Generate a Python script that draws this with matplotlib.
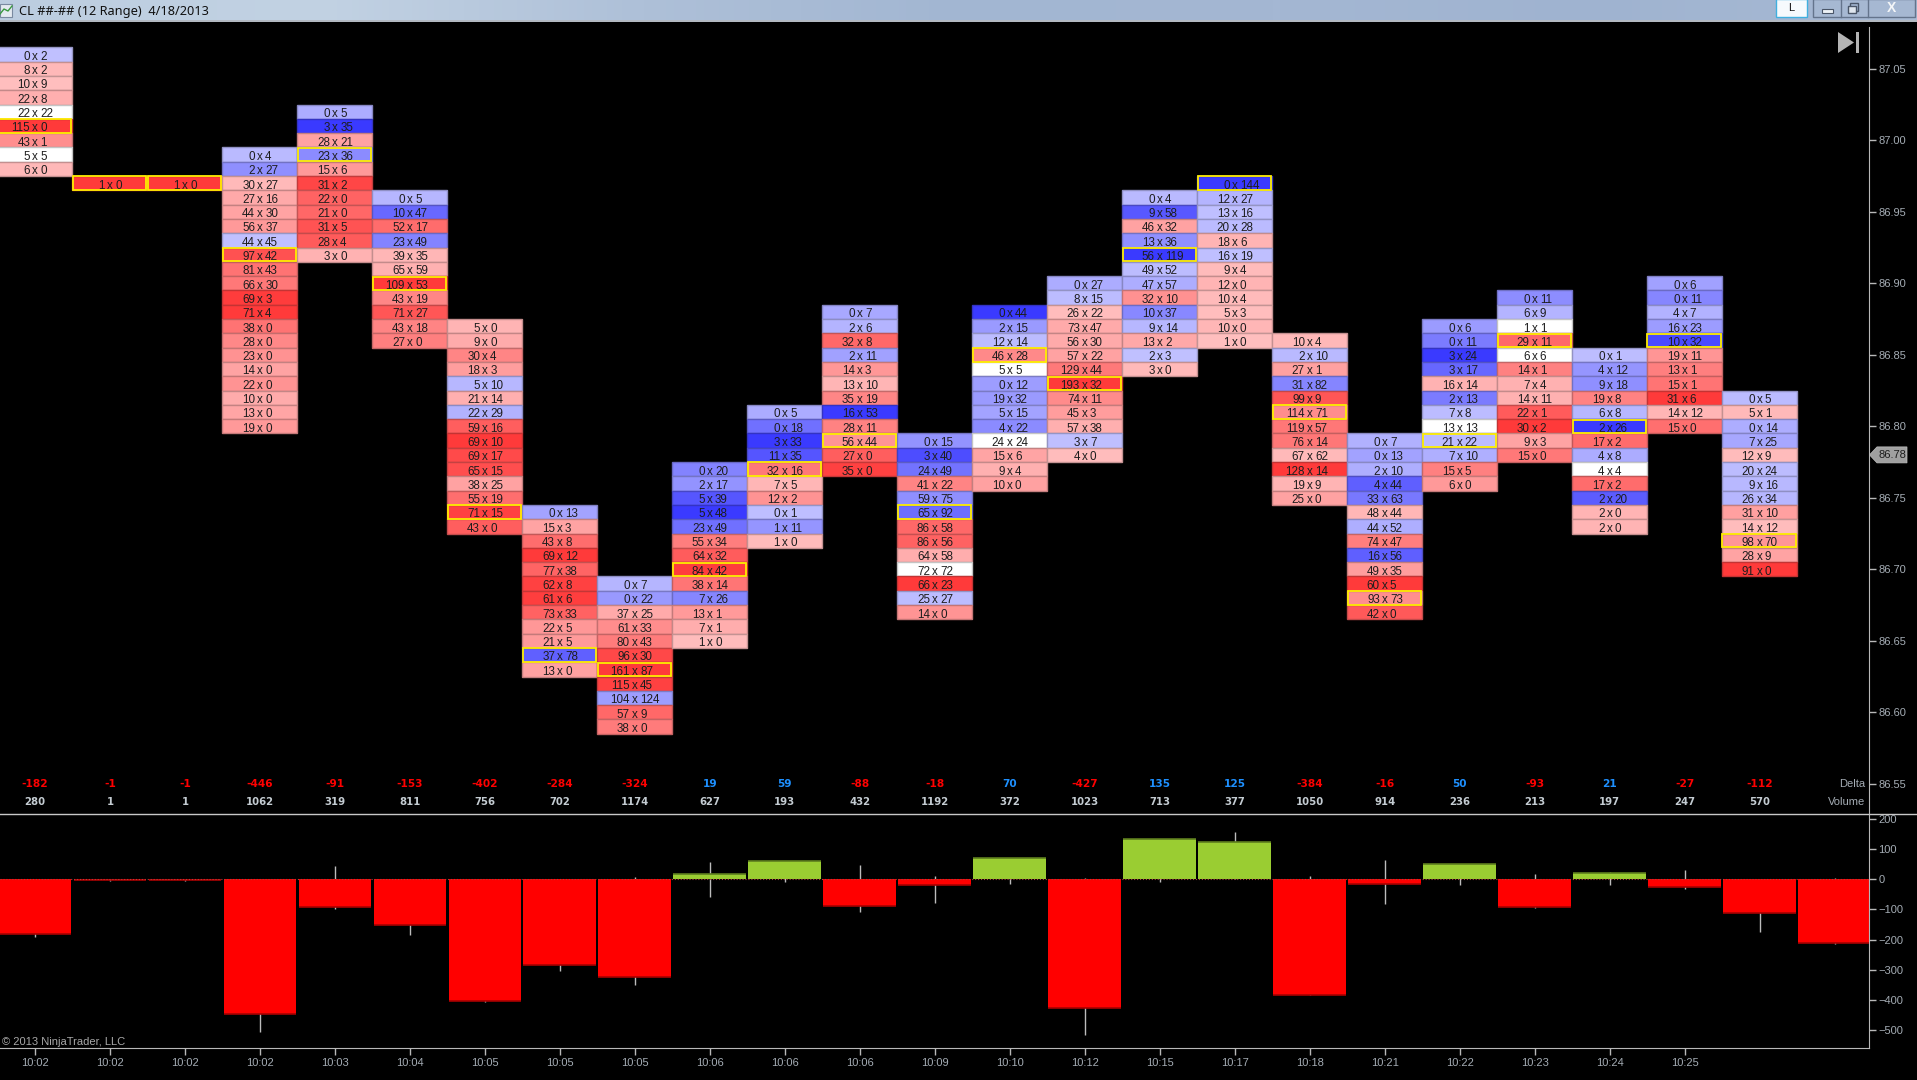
import numpy as np
import matplotlib
matplotlib.use('Agg')
import matplotlib.pyplot as plt
from matplotlib.colors import LinearSegmentedColormap
from matplotlib.patches import Rectangle, Polygon

# footprint data, one list per column, rows run from the top price downwards
top_prices = [87.06, 86.97, 86.97, 86.99, 87.02, 86.96, 86.87, 86.74, 86.69, 86.77, 86.81, 86.88,
              86.79, 86.88, 86.90, 86.96, 86.97, 86.86, 86.79, 86.87, 86.89, 86.85, 86.90, 86.82]

bids = [
    [0, 8, 10, 22, 22, 115, 43, 5, 6],
    [1],
    [1],
    [0, 2, 30, 27, 44, 56, 44, 97, 81, 66, 69, 71, 38, 28, 23, 14, 22, 10, 13, 19],
    [0, 3, 28, 23, 15, 31, 22, 21, 31, 28, 3],
    [0, 10, 52, 23, 39, 65, 109, 43, 71, 43, 27],
    [5, 9, 30, 18, 5, 21, 22, 59, 69, 69, 65, 38, 55, 71, 43],
    [0, 15, 43, 69, 77, 62, 61, 73, 22, 21, 37, 13],
    [0, 0, 37, 61, 80, 96, 161, 115, 104, 57, 38],
    [0, 2, 5, 5, 23, 55, 64, 84, 38, 7, 13, 7, 1],
    [0, 0, 3, 11, 32, 7, 12, 0, 1, 1],
    [0, 2, 32, 2, 14, 13, 35, 16, 28, 56, 27, 35],
    [0, 3, 24, 41, 59, 65, 86, 86, 64, 72, 66, 25, 14],
    [0, 2, 12, 46, 5, 0, 19, 5, 4, 24, 15, 9, 10],
    [0, 8, 26, 73, 56, 57, 129, 193, 74, 45, 57, 3, 4],
    [0, 9, 46, 13, 56, 49, 47, 32, 10, 9, 13, 2, 3],
    [0, 12, 13, 20, 18, 16, 9, 12, 10, 5, 10, 1],
    [10, 2, 27, 31, 99, 114, 119, 76, 67, 128, 19, 25],
    [0, 0, 2, 4, 33, 48, 44, 74, 16, 49, 60, 93, 42],
    [0, 0, 3, 3, 16, 2, 7, 13, 21, 7, 15, 6],
    [0, 6, 1, 29, 6, 14, 7, 14, 22, 30, 9, 15],
    [0, 4, 9, 19, 6, 2, 17, 4, 4, 17, 2, 2, 2],
    [0, 0, 4, 16, 10, 19, 13, 15, 31, 14, 15],
    [0, 5, 0, 7, 12, 20, 9, 26, 31, 14, 98, 28, 91],
]
asks = [
    [2, 2, 9, 8, 22, 0, 1, 5, 0],
    [0],
    [0],
    [4, 27, 27, 16, 30, 37, 45, 42, 43, 30, 3, 4, 0, 0, 0, 0, 0, 0, 0, 0],
    [5, 35, 21, 36, 6, 2, 0, 0, 5, 4, 0],
    [5, 47, 17, 49, 35, 59, 53, 19, 27, 18, 0],
    [0, 0, 4, 3, 10, 14, 29, 16, 10, 17, 15, 25, 19, 15, 0],
    [13, 3, 8, 12, 38, 8, 6, 33, 5, 5, 78, 0],
    [7, 22, 25, 33, 43, 30, 87, 45, 124, 9, 0],
    [20, 17, 39, 48, 49, 34, 32, 42, 14, 26, 1, 1, 0],
    [5, 18, 33, 35, 16, 5, 2, 1, 11, 0],
    [7, 6, 8, 11, 3, 10, 19, 53, 11, 44, 0, 0],
    [15, 40, 49, 22, 75, 92, 58, 56, 58, 72, 23, 27, 0],
    [44, 15, 14, 28, 5, 12, 32, 15, 22, 24, 6, 4, 0],
    [27, 15, 22, 47, 30, 22, 44, 32, 11, 3, 38, 7, 0],
    [4, 58, 32, 36, 119, 52, 57, 10, 37, 14, 2, 3, 0],
    [144, 27, 16, 28, 6, 19, 4, 0, 4, 3, 0, 0],
    [4, 10, 1, 82, 9, 71, 57, 14, 62, 14, 9, 0],
    [7, 13, 10, 44, 63, 44, 52, 47, 56, 35, 5, 73, 0],
    [6, 11, 24, 17, 14, 13, 8, 13, 22, 10, 5, 0],
    [11, 9, 1, 11, 6, 1, 4, 11, 1, 2, 3, 0],
    [1, 12, 18, 8, 8, 26, 2, 8, 4, 2, 20, 0, 0],
    [6, 11, 7, 23, 32, 11, 1, 1, 6, 12, 0],
    [5, 1, 14, 25, 9, 24, 16, 34, 10, 12, 70, 9, 0],
]
# row of the highest volume in each column (yellow box)
poc_rows = [5, 0, 0, 7, 3, 6, 13, 10, 6, 7, 4, 9, 5, 3, 7, 4, 0, 5, 11, 8, 3, 5, 4, 10]

delta_labels = [-182, -1, -1, -446, -91, -153, -402, -284, -324, 19, 59, -88, -18, 70, -427, 135,
                125, -384, -16, 50, -93, 21, -27, -112]
volume_labels = [280, 1, 1, 1062, 319, 811, 756, 702, 1174, 627, 193, 432, 1192, 372, 1023, 713,
                 377, 1050, 914, 236, 213, 197, 247, 570]

# bottom panel has one more bar than the footprint
delta_bars = delta_labels + [-210]
delta_high = [0, 0, 0, 0, 43, 0, 0, 0, 7, 56, 58, 46, 10, 70, 4, 135, 156, 10, 63, 50, 17, 23, 30, 0, 4]
delta_low = [-190, -5, -5, -506, -97, -184, -407, -303, -350, -58, -8, -107, -77, -14, -515, -10,
             0, -384, -83, -20, -96, -20, -31, -173, -213]

time_labels = ['10:02', '10:02', '10:02', '10:02', '10:03', '10:04', '10:05', '10:05', '10:05',
               '10:06', '10:06', '10:06', '10:09', '10:10', '10:12', '10:15', '10:17', '10:18',
               '10:21', '10:22', '10:23', '10:24', '10:25']
price_ticks = [87.05, 87.00, 86.95, 86.90, 86.85, 86.80, 86.75, 86.70, 86.65, 86.60, 86.55]
delta_ticks = [200, 100, 0, -100, -200, -300, -400, -500]
last_price = 86.78

W, H = 1917, 1080
AXIS_X = 1868.5
SPLIT_Y = 814.3
BOTTOM_Y = 1048.3
GREY = '#a4acb4'
NARROW = ['Liberation Sans Narrow', 'Liberation Sans']
SANS = ['Liberation Sans', 'DejaVu Sans']
BOLD = ['DejaVu Sans']

plt.rcParams['font.family'] = SANS

red_scale = LinearSegmentedColormap.from_list('reds', ['#ffbfbf', '#ff3a3a'])
blue_scale = LinearSegmentedColormap.from_list('blues', ['#c2c2ff', '#3a3aff'])


def cell_color(bid, ask, biggest):
    #colour only depends on the imbalance, scaled by the biggest one in the column
    diff = bid - ask
    if diff == 0:
        return (1, 1, 1, 1)
    ratio = abs(diff) / biggest
    return red_scale(ratio) if diff > 0 else blue_scale(ratio)


def pixel_axes(fig, top, bottom, right=AXIS_X):
    return fig.add_axes([0, 1 - bottom / H, right / W, (bottom - top) / H])


fig = plt.figure(figsize=(W / 100, H / 100), dpi=100, facecolor='black')

ax_price = pixel_axes(fig, 20, SPLIT_Y)
ax_delta = pixel_axes(fig, SPLIT_Y, BOTTOM_Y)

x_limits = (-35 / 74.98, (AXIS_X - 35) / 74.98)
for ax in (ax_price, ax_delta):
    ax.set_facecolor('black')
    ax.set_xlim(*x_limits)
    for side in ('top', 'left', 'bottom'):
        ax.spines[side].set_visible(False)
    ax.spines['right'].set_color('#b8b8b8')
    ax.yaxis.tick_right()
    ax.tick_params(axis='y', length=5, width=1, color='#b8b8b8', labelcolor=GREY, labelsize=8, pad=2)

# footprint panel
ax_price.set_ylim(87.06 - (SPLIT_Y - 54.5) / 1430, 87.06 + 34.5 / 1430)
ax_price.spines['right'].set_bounds(ax_price.get_ylim()[0], 87.06 + 27.5 / 1430)
ax_price.set_xticks([])
ax_price.set_yticks(price_ticks)
ax_price.set_yticklabels(['%.2f' % p for p in price_ticks])

for col, top in enumerate(top_prices):
    biggest = max(abs(b - a) for b, a in zip(bids[col], asks[col]))
    for row, (bid, ask) in enumerate(zip(bids[col], asks[col])):
        price = top - row * 0.01
        face = cell_color(bid, ask, biggest)
        edge = tuple(c * 0.74 + 0.03 for c in face[:3])
        ax_price.bar(col, 0.01, bottom=price - 0.005, width=1.0, color=face, edgecolor=edge,
                     linewidth=1, zorder=2)
        text_y = price - 0.0006
        ax_price.text(col - 0.065, text_y, str(bid), ha='right', va='center_baseline', fontsize=8.4,
                      color='#1e1e1e', family=NARROW, zorder=4)
        ax_price.text(col, text_y, 'x', ha='center', va='center_baseline', fontsize=8.4,
                      color='#1e1e1e', family=NARROW, zorder=4)
        ax_price.text(col + 0.07, text_y, str(ask), ha='left', va='center_baseline', fontsize=8.4,
                      color='#1e1e1e', family=NARROW, zorder=4)
    poc_price = top - poc_rows[col] * 0.01
    ax_price.bar(col - 0.007, 0.0094, bottom=poc_price - 0.0047, width=0.975, color='none',
                 edgecolor='#ffee00', linewidth=1.3, zorder=3)

# delta / volume rows under the footprint
label_trans = ax_price.get_xaxis_transform()
for col in range(len(delta_labels)):
    color = '#ff0000' if delta_labels[col] < 0 else '#1e90ff'
    ax_price.text(col, 0.0385, str(delta_labels[col]), transform=label_trans, ha='center', va='center',
                  fontsize=7.6, fontweight='bold', color=color, family=BOLD)
    ax_price.text(col, 0.0157, str(volume_labels[col]), transform=label_trans, ha='center', va='center',
                  fontsize=7.3, fontweight='bold', color='#c4ccd2', family=BOLD)
ax_price.text(0.9982, 0.0385, 'Delta', transform=ax_price.transAxes, ha='right', va='center',
              fontsize=8, color=GREY)
ax_price.text(0.9982, 0.0157, 'Volume', transform=ax_price.transAxes, ha='right', va='center',
              fontsize=8, color=GREY)

# delta bars panel
ax_delta.set_ylim((879.3 - BOTTOM_Y) / 0.3019, (879.3 - SPLIT_Y) / 0.3019)
ax_delta.spines['bottom'].set_visible(True)
ax_delta.spines['bottom'].set_color('#b8b8b8')
ax_delta.set_yticks(delta_ticks)
ax_delta.set_xticks(range(len(time_labels)))
ax_delta.set_xticklabels(time_labels)
ax_delta.tick_params(axis='x', length=5, width=1, color='#b8b8b8', labelcolor=GREY, labelsize=8, pad=2)

xs = np.arange(len(delta_bars))
values = np.array(delta_bars)
ax_delta.vlines(xs, delta_low, delta_high, color='#bcbcbc', linewidth=1, zorder=1)
bar_colors = ['#ff0000' if v < 0 else '#9acd32' for v in values]
end_colors = ['#a80000' if v < 0 else '#5d7d1e' for v in values]
ax_delta.bar(xs, values, width=0.97, color=bar_colors, zorder=2)
ax_delta.hlines(values, xs - 0.485, xs + 0.485, color=end_colors, linewidth=1.2, zorder=3)
ax_delta.axhline(0, color='#b04040', linewidth=0.8, linestyle=':', zorder=4)
ax_delta.text(0.001, 0.025, '\u00a9 2013 NinjaTrader, LLC', transform=ax_delta.transAxes, ha='left',
              va='center', fontsize=8, color='#a8a8a8')

# window furniture, everything here is in screen pixels
ax_top = fig.add_axes([0, 0, 1, 1], facecolor='none')
ax_top.set_xlim(0, W)
ax_top.set_ylim(H, 0)
ax_top.axis('off')

title_colors = LinearSegmentedColormap.from_list(
    'title', ['#bccde0', '#c2d2e3', '#aec0d8', '#a2b6d2', '#a4b7d3', '#9fb3d0', '#a8bad4'])
ax_top.imshow(np.linspace(0, 1, 256)[None, :], cmap=title_colors, aspect='auto', extent=(0, W, 20, 0))
ax_top.set_xlim(0, W)
ax_top.set_ylim(H, 0)
ax_top.plot([0, W], [20.5, 20.5], color='#d8dfe8', linewidth=1.2)
ax_top.plot([0, W], [SPLIT_Y, SPLIT_Y], color='#c8c8c8', linewidth=1)

ax_top.add_patch(Rectangle((0, 4), 12, 13, facecolor='#e4eaf0', edgecolor='#7a8aa0', linewidth=0.8))
ax_top.plot([0, 4, 8, 12], [14, 9, 11, 6], color='#3a9a40', linewidth=1)
ax_top.text(19, 11, 'CL ##-## (12 Range)  4/18/2013', ha='left', va='center', fontsize=9.2,
            family=['Noto Sans', 'DejaVu Sans'], color='#101010')

ax_top.add_patch(Rectangle((1776, -1), 31, 18, facecolor='#f6fafd', edgecolor='#40b0e0', linewidth=1))
ax_top.text(1791.5, 8, 'L', ha='center', va='center', fontsize=8, color='#101010')
ax_top.add_patch(Rectangle((1813, -1), 102, 18, facecolor='#a6b8d2', edgecolor='#64748c', linewidth=1))
for sep in (1840.7, 1867.7):
    ax_top.plot([sep, sep], [0, 17], color='#64748c', linewidth=1)
ax_top.add_patch(Rectangle((1821.5, 8.5), 11, 4, facecolor='#eef2f6', edgecolor='#4a5668', linewidth=0.8))
ax_top.add_patch(Rectangle((1850, 3), 8, 8, facecolor='none', edgecolor='#4a5668', linewidth=1))
ax_top.add_patch(Rectangle((1847.5, 5.5), 8, 7.5, facecolor='#dfe6ee', edgecolor='#4a5668', linewidth=1))
ax_top.text(1891.5, 8, 'X', ha='center', va='center', fontsize=10, fontweight='bold', color='#f4f6f8')

# skip-to-end button
ax_top.add_patch(Polygon([(1838, 32), (1854, 42.5), (1838, 53)], facecolor='#b4b4b4', edgecolor='none'))
ax_top.add_patch(Rectangle((1855.5, 32), 3.5, 21, facecolor='#b4b4b4', edgecolor='none'))

# last price flag
flag_y = 54.5 + (87.06 - last_price) * 1430
ax_top.add_patch(Polygon([(1869.5, flag_y), (1877, flag_y - 8), (1907, flag_y - 8), (1907, flag_y + 8),
                          (1877, flag_y + 8)], facecolor='#a0a0a0', edgecolor='#c0c0c0', linewidth=0.5))
ax_top.text(1892, flag_y, '%.2f' % last_price, ha='center', va='center', fontsize=8, color='#1c1c1c')

fig.savefig('out.png', dpi=100, facecolor='black')
